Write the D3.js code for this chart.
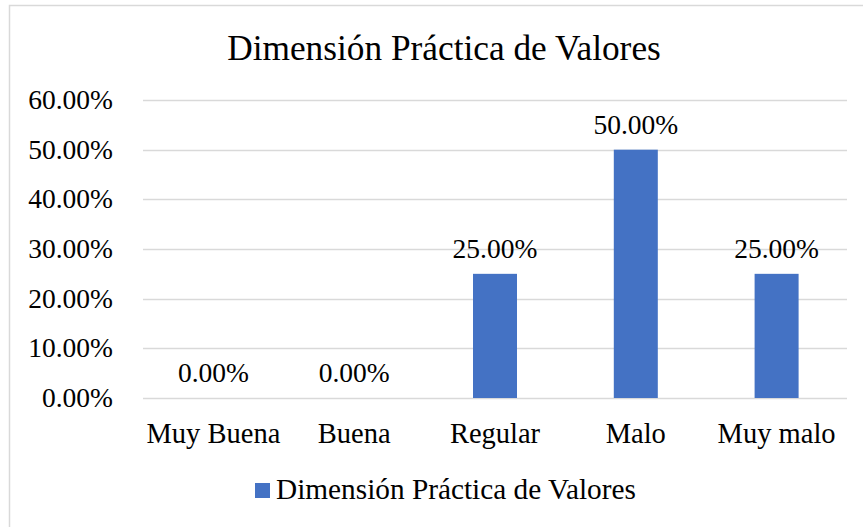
<!DOCTYPE html>
<html>
<head>
<meta charset="utf-8">
<script src="https://cdn.jsdelivr.net/npm/d3@7"></script>
<style>
  body { margin: 0; background: #fff; }
</style>
</head>
<body>
<div id="app"></div>
<script>
const categories = ["Muy Buena", "Buena", "Regular", "Malo", "Muy malo"];
const values = [0, 0, 0.25, 0.5, 0.25];
const yTicks = [0, 0.1, 0.2, 0.3, 0.4, 0.5, 0.6];
const seriesName = "Dimensión Práctica de Valores";
const title = "Dimensión Práctica de Valores";

const width = 863;
const height = 527;
const FONT = "'Liberation Serif'";

const svg = d3.select("#app").append("svg")
  .attr("width", width)
  .attr("height", height);

// chart area border (only top and left show in the frame)
svg.append("rect")
  .attr("x", 9.5).attr("y", 5.5)
  .attr("width", width + 10).attr("height", height + 10)
  .attr("fill", "none").attr("stroke", "#d9d9d9").attr("stroke-width", 1.5);

const x = d3.scaleBand()
  .domain(categories)
  .range([143, 847])
  .paddingInner(0.6875)
  .paddingOuter(0.34375);

const y = d3.scaleLinear().domain([0, 0.6]).range([398, 100]);

const fmt = d3.format(".2%");

// gridlines
svg.append("g")
  .selectAll("line")
  .data(yTicks)
  .join("line")
  .attr("x1", 143).attr("x2", 847)
  .attr("y1", (d) => Math.round(y(d)) + 0.5)
  .attr("y2", (d) => Math.round(y(d)) + 0.5)
  .attr("stroke", "#d9d9d9")
  .attr("stroke-width", 1.5);

// y labels
svg.append("g")
  .selectAll("text")
  .data(yTicks)
  .join("text")
  .attr("x", 113)
  .attr("y", (d) => y(d) + 9)
  .attr("text-anchor", "end")
  .style("font-family", FONT)
  .style("font-size", "27.5px")
  .text((d) => fmt(d));

// bars
svg.append("g")
  .selectAll("rect")
  .data(values)
  .join("rect")
  .attr("x", (d, i) => x(categories[i]))
  .attr("y", (d) => y(d))
  .attr("width", x.bandwidth())
  .attr("height", (d) => y(0) - y(d))
  .attr("fill", "#4472c4");

// data labels
svg.append("g")
  .selectAll("text")
  .data(values)
  .join("text")
  .attr("x", (d, i) => x(categories[i]) + x.bandwidth() / 2)
  .attr("y", (d) => y(d) - 16)
  .attr("text-anchor", "middle")
  .style("font-family", FONT)
  .style("font-size", "27.5px")
  .text((d) => fmt(d));

// x labels
svg.append("g")
  .selectAll("text")
  .data(categories)
  .join("text")
  .attr("x", (d) => x(d) + x.bandwidth() / 2)
  .attr("y", 443)
  .attr("text-anchor", "middle")
  .style("font-family", FONT)
  .style("font-size", "28.5px")
  .text((d) => d);

// title
svg.append("text")
  .attr("x", 444)
  .attr("y", 60)
  .attr("text-anchor", "middle")
  .style("font-family", FONT)
  .style("font-size", "35.3px")
  .text(title);

// legend
svg.append("rect")
  .attr("x", 255).attr("y", 483)
  .attr("width", 15).attr("height", 15)
  .attr("fill", "#4472c4");
svg.append("text")
  .attr("x", 276)
  .attr("y", 499)
  .style("font-family", FONT)
  .style("font-size", "29.3px")
  .text(seriesName);
</script>
</body>
</html>
